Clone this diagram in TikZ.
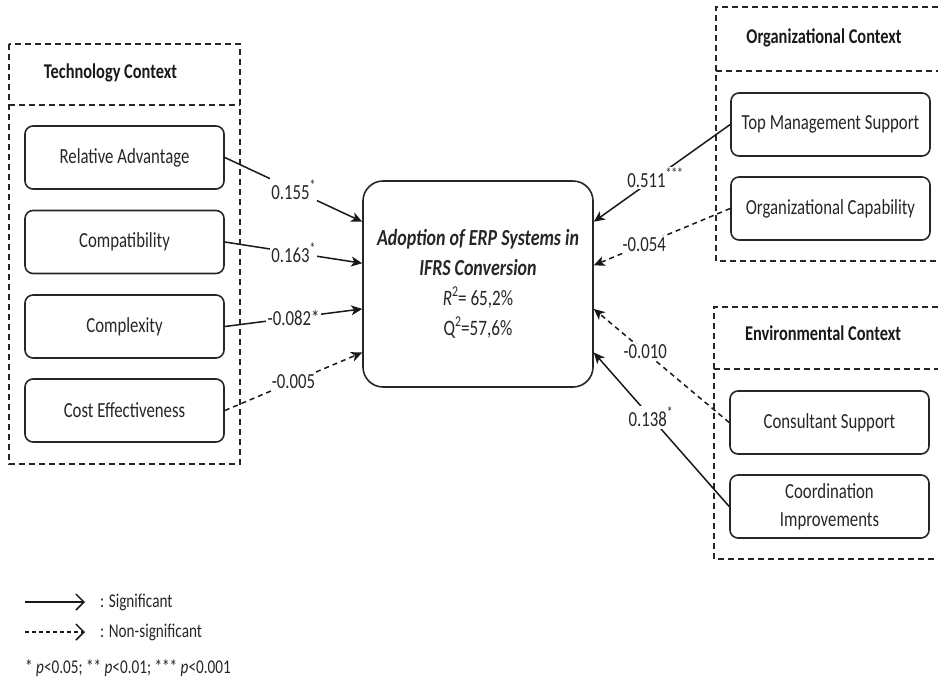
\documentclass[tikz,border=0pt]{standalone}
\usepackage{fontspec}
\setmainfont{Carlito}[FakeStretch=0.78]
\usetikzlibrary{arrows.meta,calc}
\newcommand{\signif}[1]{\raisebox{0.42em}{\fontsize{15}{15}\selectfont #1}}

\begin{document}
\begin{tikzpicture}[x=1pt,y=-1pt,
    factor/.style={draw=black!85,line width=1.6pt,rounded corners=8pt,minimum width=199pt,minimum height=63pt,align=center,font=\fontsize{21.5}{28}\selectfont,text=black!85},
    ctx/.style={draw=black!85,line width=1.3pt,dash pattern=on 6pt off 4pt},
    head/.style={font=\fontsize{21}{25}\selectfont\bfseries,text=black!90},
    sig/.style={line width=1.5pt,draw=black!90,-{Stealth[length=11pt,width=10pt,inset=3pt]}},
    nonsig/.style={sig,dash pattern=on 5pt off 4pt},
    coef/.style={fill=white,inner sep=1.5pt,font=\fontsize{21.5}{25}\selectfont,text=black!85},
    legend/.style={anchor=west,inner sep=0pt,font=\fontsize{19.5}{24}\selectfont,text=black!85},
    legsig/.style={line width=1.5pt,draw=black!90,-{Straight Barb[length=8pt,width=16pt]}}]
  \useasboundingbox (0,0) rectangle (938,678);
  \draw[ctx] (9,44) rectangle (240,464);
  \draw[ctx] (9,105) -- (240,105);
  \node[head] (techhead) at (110.5,73) {Technology Context};
  \node[factor] (reladv) at (124.5,157.5) {Relative Advantage};
  \node[factor] (compat) at (124.5,242) {Compatibility};
  \node[factor] (complex) at (124.5,326.5) {Complexity};
  \node[factor] (costeff) at (124.5,410.5) {Cost Effectiveness};
  \node[draw=black!85,line width=1.6pt,rounded corners=20pt,minimum width=230pt,minimum height=206pt,align=center,text=black!85,font=\fontsize{22}{30}\selectfont] (adopt) at (478,284)
    {{\fontsize{23}{30}\selectfont\bfseries\itshape Adoption of ERP Systems in}\\{\fontsize{23}{30}\selectfont\bfseries\itshape IFRS Conversion}\\\textit{R}\signif{2}= 65,2\%\\Q\signif{2}=57,6\%};
  \coordinate (inA) at ($(adopt.north west)!0.2!(adopt.south west)$);
  \coordinate (inB) at ($(adopt.north west)!0.4!(adopt.south west)$);
  \coordinate (inC) at ($(adopt.north west)!0.62!(adopt.south west)$);
  \coordinate (inD) at ($(adopt.north west)!0.83!(adopt.south west)$);
  \coordinate (outA) at ($(adopt.north east)!0.2!(adopt.south east)$);
  \coordinate (outB) at ($(adopt.north east)!0.41!(adopt.south east)$);
  \coordinate (outC) at ($(adopt.north east)!0.62!(adopt.south east)$);
  \coordinate (outD) at ($(adopt.north east)!0.83!(adopt.south east)$);
  \draw[sig] (reladv.east) -- (inA) node[coef,midway] {0.155\signif{*}};
  \draw[sig] (compat.east) -- (inB) node[coef,midway] {0.163\signif{*}};
  \draw[sig] (complex.east) -- (inC) node[coef,midway] {-0.082*};
  \draw[nonsig] (costeff.east) -- (inD) node[coef,midway] {-0.005};
  \draw[ctx] (938,7) -- (716,7) -- (716,261) -- (938,261);
  \draw[ctx] (716,71) -- (938,71);
  \node[head] (orghead) at (824,38) {Organizational Context};
  \node[factor] (topmgmt) at (830.5,124.5) {Top Management Support};
  \node[factor] (orgcap) at (830.5,208.5) {Organizational Capability};
  \draw[ctx] (938,307) -- (714,307) -- (714,559) -- (938,559);
  \draw[ctx] (714,369) -- (938,369);
  \node[head] (envhead) at (823,333) {Environmental Context};
  \node[factor] (consult) at (829.5,422.5) {Consultant Support};
  \node[factor] (coord) at (829.5,506.5) {Coordination\\Improvements};
  \draw[sig] (topmgmt.west) -- (outA) node[coef,pos=0.55] {0.511\signif{***}};
  \draw[nonsig] (orgcap.west) -- (outB) node[coef,pos=0.63] {-0.054};
  \draw[nonsig] (consult.west) -- (outC) node[coef,pos=0.62] {-0.010};
  \draw[sig] (coord.west) -- (outD) node[coef,pos=0.58] {0.138\signif{*}};
  \coordinate (sigA) at (25,602);
  \coordinate (sigB) at (85,602);
  \coordinate (nsigA) at (25,632);
  \coordinate (nsigB) at (85,632);
  \draw[legsig] (sigA) -- (sigB);
  \draw[legsig,dash pattern=on 4pt off 3pt] (nsigA) -- (nsigB);
  \node[legend] (sigtext) at (100,602) {: Significant};
  \node[legend] (nsigtext) at (100,632) {: Non-significant};
  \node[legend] (pvals) at (25,668) {* \textit{p}<0.05; ** \textit{p}<0.01; *** \textit{p}<0.001};
\end{tikzpicture}
\end{document}
